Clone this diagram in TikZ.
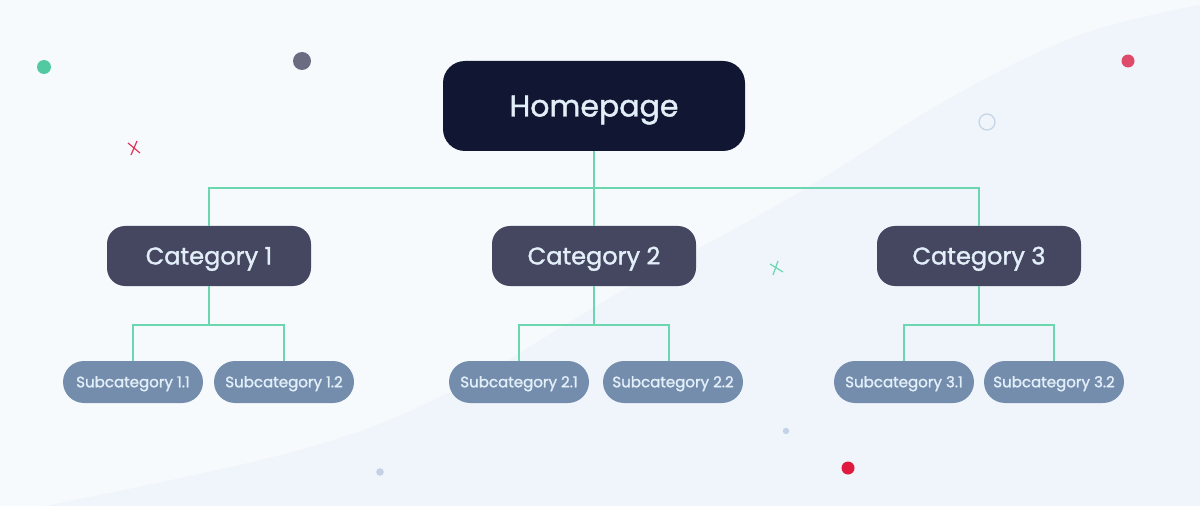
\documentclass[tikz,border=0pt]{standalone}
\usepackage{fontspec}
\setmainfont{Poppins}
\newfontfamily\medfont{Poppins}[FakeBold=1.5]
\definecolor{bgA}{HTML}{F7FAFD}
\definecolor{bgB}{HTML}{EFF5FB}
\definecolor{homeC}{HTML}{111633}
\definecolor{catC}{HTML}{45465F}
\definecolor{subC}{HTML}{748DAD}
\definecolor{lineC}{HTML}{6CD6B0}
\definecolor{txtC}{HTML}{E2EEF8}
\definecolor{greenDot}{HTML}{52C9A0}
\definecolor{grayDot}{HTML}{6B6C82}
\definecolor{redA}{HTML}{E0335A}
\definecolor{redB}{HTML}{E04A6A}
\definecolor{redC}{HTML}{E0193F}
\definecolor{paleC}{HTML}{C3D3E5}
\tikzset{
  homebox/.style={fill=homeC, rounded corners=16.5pt, minimum width=226.5pt, minimum height=67.5pt, text=txtC, font=\medfont\fontsize{22.5}{26}\selectfont, inner sep=0pt, text height=15.75pt, text depth=0pt},
  catbox/.style={fill=catC, rounded corners=13.5pt, minimum width=153pt, minimum height=45pt, text=txtC, font=\medfont\fontsize{18}{22}\selectfont, inner sep=0pt, text height=12.6pt, text depth=0pt},
  subbox/.style={fill=subC, rounded corners=15.75pt, minimum width=105pt, minimum height=31.5pt, text=txtC, font=\medfont\fontsize{11.3}{14}\selectfont, inner sep=0pt, text height=7.9pt, text depth=0pt},
  conn/.style={draw=lineC, line width=1.3pt},
  xmark/.style={line width=0.9pt},
}
\begin{document}
\begin{tikzpicture}[x=0.75pt, y=-0.75pt]
\fill[bgA] (0,0) rectangle (1200,506);
\useasboundingbox (0,0) rectangle (1200,506);
\fill[bgB] plot[smooth, tension=0.6] coordinates {(45,506) (300,450) (450,392) (620,292) (800,192) (950,98) (1080,35) (1200,5)} -- (1200,506) -- cycle;
% decorations
\fill[greenDot] (44,67) circle[radius=7];
\fill[grayDot] (302,61) circle[radius=9];
\draw[redA, xmark] (128,143) -- (140,153) (137,141) -- (131,155);
\fill[redB] (1128,61) circle[radius=6.5];
\draw[paleC, line width=0.9pt] (987,122) circle[radius=8];
\draw[lineC, xmark] (770,264) -- (783,272) (778,261) -- (773,275);
\fill[paleC] (786,431) circle[radius=3.2];
\fill[paleC] (380,472) circle[radius=3.8];
\fill[redC] (848,468) circle[radius=6.5];
% nodes
\node[homebox] (home) at (594,106) {Homepage};
\node[catbox] (c1) at (209,256) {Category 1};
\node[catbox] (c2) at (594,256) {Category 2};
\node[catbox] (c3) at (979,256) {Category 3};
\node[subbox] (s11) at (133,382) {Subcategory 1.1};
\node[subbox] (s12) at (284,382) {Subcategory 1.2};
\node[subbox] (s21) at (519,382) {Subcategory 2.1};
\node[subbox] (s22) at (673,382) {Subcategory 2.2};
\node[subbox] (s31) at (904,382) {Subcategory 3.1};
\node[subbox] (s32) at (1054,382) {Subcategory 3.2};
% connectors
\coordinate (hj) at (594,188);
\draw[conn] (home.south) -- (hj);
\draw[conn] (c1.north) |- (hj) -| (c3.north);
\draw[conn] (hj) -- (c2.north);
\coordinate (j1) at (209,325);
\coordinate (j2) at (594,325);
\coordinate (j3) at (979,325);
\coordinate (t22) at (669,361);
\draw[conn] (c1.south) -- (j1);
\draw[conn] (s11.north) |- (j1) -| (s12.north);
\draw[conn] (c2.south) -- (j2);
\draw[conn] (s21.north) |- (j2) -| (t22);
\draw[conn] (c3.south) -- (j3);
\draw[conn] (s31.north) |- (j3) -| (s32.north);
\end{tikzpicture}
\end{document}
